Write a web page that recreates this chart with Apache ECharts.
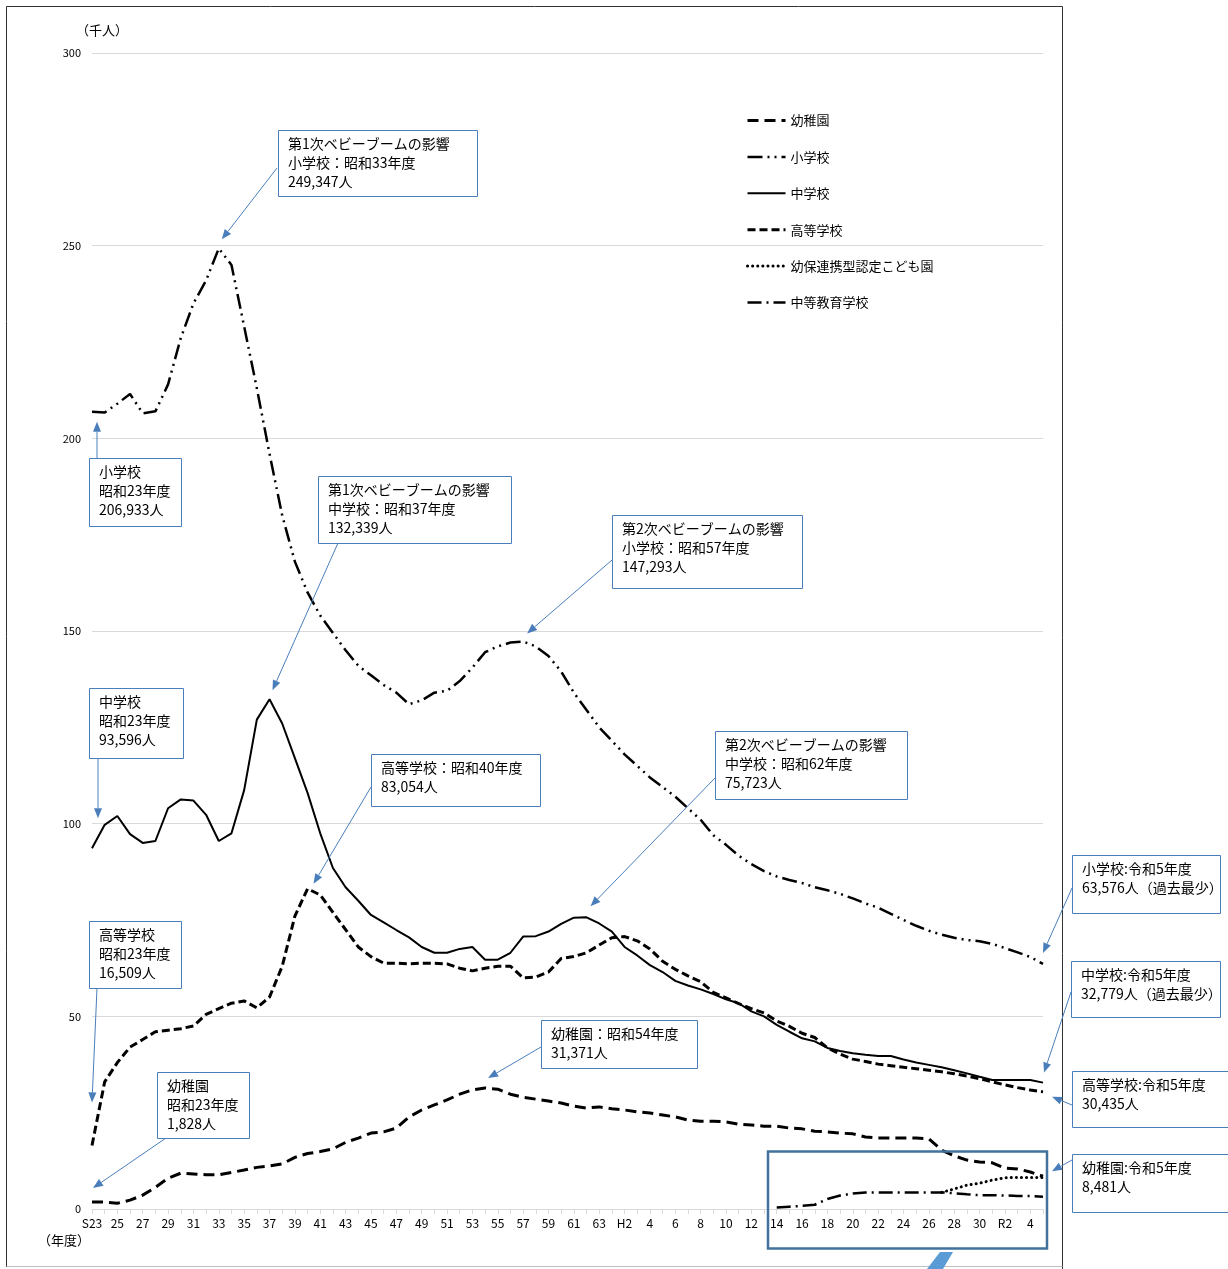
<!DOCTYPE html>
<html lang="ja">
<head>
<meta charset="UTF-8">
<title>児童・生徒数の推移</title>
<script src="https://cdn.jsdelivr.net/npm/echarts@6/dist/echarts.min.js"></script>
<style>
  html, body { margin: 0; padding: 0; background: #fff; }
  #main { width: 1228px; height: 1269px; }
</style>
</head>
<body>
<div id="main"></div>
<script>
// 年度（S23〜R5）
var fiscalYears = [
  'S23','S24','S25','S26','S27','S28','S29','S30','S31','S32','S33','S34','S35','S36','S37','S38','S39','S40','S41','S42',
  'S43','S44','S45','S46','S47','S48','S49','S50','S51','S52','S53','S54','S55','S56','S57','S58','S59','S60','S61','S62','S63',
  'H1','H2','H3','H4','H5','H6','H7','H8','H9','H10','H11','H12','H13','H14','H15','H16','H17','H18','H19','H20',
  'H21','H22','H23','H24','H25','H26','H27','H28','H29','H30','R1','R2','R3','R4','R5'
];
// 軸に表示する目盛ラベル
var tickLabels = [
  'S23','24','25','26','27','28','29','30','31','32','33','34','35','36','37','38','39','40','41','42',
  '43','44','45','46','47','48','49','50','51','52','53','54','55','56','57','58','59','60','61','62','63',
  'H1','H2','3','4','5','6','7','8','9','10','11','12','13','14','15','16','17','18','19','20',
  '21','22','23','24','25','26','27','28','29','30','R1','R2','3','4','5'
];

// 児童・生徒数（千人）
var kindergarten = [
  1.8, 1.8, 1.5, 2.3, 3.6, 5.6, 8.0, 9.3, 9.1, 8.9, 8.9, 9.5, 10.1, 10.8, 11.2, 11.7, 13.4, 14.4, 14.9, 15.6,
  17.3, 18.4, 19.7, 20.0, 21.0, 23.9, 25.7, 27.0, 28.3, 29.8, 30.9, 31.4, 31.1, 29.8, 29.0, 28.5, 28.0, 27.5, 26.7, 26.2, 26.5,
  26.0, 25.7, 25.2, 24.9, 24.4, 23.9, 23.1, 22.8, 22.8, 22.6, 22.0, 21.8, 21.5, 21.5, 21.0, 20.8, 20.2, 20.0, 19.7, 19.5,
  18.7, 18.4, 18.4, 18.4, 18.4, 18.2, 15.3, 13.8, 12.7, 12.2, 12.0, 10.6, 10.4, 9.6, 8.5
];
var elementary = [
  206.9, 206.7, 209.0, 211.5, 206.5, 207.0, 214.0, 226.0, 235.0, 241.0, 249.3, 245.0, 229.0, 213.0, 196.0, 180.0, 168.0, 160.0, 154.0, 149.5,
  145.0, 141.0, 138.5, 136.0, 134.0, 131.0, 132.0, 134.0, 134.5, 137.0, 140.5, 144.5, 146.0, 147.0, 147.3, 146.0, 143.5, 139.5, 134.0, 129.5, 125.0,
  121.5, 118.0, 115.0, 112.0, 109.5, 107.0, 104.0, 101.0, 97.0, 94.5, 91.7, 89.5, 87.7, 86.3, 85.4, 84.6, 83.5, 82.7, 81.8, 80.6,
  79.3, 78.2, 76.6, 75.0, 73.5, 72.2, 71.2, 70.4, 69.8, 69.5, 68.8, 67.7, 66.6, 65.4, 63.6
];
var juniorHigh = [
  93.6, 99.7, 102.0, 97.3, 95.0, 95.5, 104.0, 106.3, 106.0, 102.3, 95.5, 97.5, 108.7, 127.0, 132.3, 126.0, 117.0, 108.0, 97.5, 88.5,
  83.5, 80.0, 76.3, 74.4, 72.4, 70.5, 68.0, 66.5, 66.5, 67.5, 68.0, 64.7, 64.7, 66.5, 70.7, 70.8, 72.0, 74.0, 75.6, 75.7, 74.1,
  72.0, 68.0, 65.8, 63.3, 61.5, 59.2, 58.0, 57.0, 55.8, 54.4, 53.4, 51.3, 50.0, 47.8, 46.0, 44.3, 43.5, 41.8, 41.0, 40.4,
  40.0, 39.7, 39.7, 38.8, 38.0, 37.4, 36.8, 36.0, 35.2, 34.3, 33.5, 33.5, 33.5, 33.5, 32.8
];
var highSchool = [
  16.5, 33.0, 38.0, 42.0, 44.0, 46.0, 46.4, 46.8, 47.5, 50.5, 52.0, 53.4, 54.0, 52.2, 55.0, 63.0, 76.0, 83.1, 81.5, 77.0,
  72.5, 68.0, 65.5, 63.8, 63.8, 63.6, 63.8, 63.8, 63.6, 62.5, 61.8, 62.5, 63.0, 63.0, 60.0, 60.2, 61.5, 65.0, 65.5, 66.5, 68.5,
  70.4, 70.7, 69.6, 67.5, 64.3, 62.2, 60.5, 59.0, 56.2, 54.8, 53.3, 52.0, 50.9, 48.8, 47.4, 45.6, 44.5, 41.8, 40.2, 38.9,
  38.3, 37.6, 37.2, 36.8, 36.4, 36.0, 35.6, 35.1, 34.5, 33.8, 33.0, 32.2, 31.5, 30.9, 30.4
];
var kodomoen = [
  null, null, null, null, null, null, null, null, null, null, null, null, null, null, null, null, null, null, null, null,
  null, null, null, null, null, null, null, null, null, null, null, null, null, null, null, null, null, null, null, null, null,
  null, null, null, null, null, null, null, null, null, null, null, null, null, null, null, null, null, null, null, null,
  null, null, null, null, null, null, 4.3, 5.2, 6.2, 6.7, 7.5, 8.1, 8.2, 8.2, 8.2
];
var secondary = [
  null, null, null, null, null, null, null, null, null, null, null, null, null, null, null, null, null, null, null, null,
  null, null, null, null, null, null, null, null, null, null, null, null, null, null, null, null, null, null, null, null, null,
  null, null, null, null, null, null, null, null, null, null, null, null, null, 0.4, 0.6, 0.8, 1.1, 2.6, 3.5, 4.0,
  4.3, 4.3, 4.3, 4.3, 4.3, 4.3, 4.3, 4.1, 3.8, 3.6, 3.6, 3.5, 3.4, 3.4, 3.2
];

var FONT = '"Noto Sans CJK JP", "Noto Sans", sans-serif';
var BLUE = '#4a7ebb';

var chart = echarts.init(document.getElementById('main'));

function lineSeries(name, data, width, dash, cap) {
  return {
    name: name,
    type: 'line',
    data: data,
    symbol: 'none',
    smooth: false,
    connectNulls: false,
    silent: true,
    lineStyle: { color: '#000', width: width, type: dash, cap: cap || 'butt' },
    itemStyle: { color: '#000' }
  };
}

var option = {
  animation: false,
  textStyle: { fontFamily: FONT },
  grid: { left: 92, right: 185, top: 53, bottom: 60 },
  legend: {
    orient: 'vertical',
    left: 741,
    top: 109,
    itemWidth: 38,
    itemHeight: 14,
    itemGap: 23.4,
    itemStyle: { opacity: 0 },
    lineStyle: { width: 'inherit', type: 'inherit' },
    textStyle: { fontFamily: FONT, fontSize: 13, color: '#000' },
    data: ['幼稚園', '小学校', '中学校', '高等学校', '幼保連携型認定こども園', '中等教育学校']
  },
  xAxis: {
    type: 'category',
    data: fiscalYears,
    boundaryGap: false,
    axisLine: { lineStyle: { color: '#d9d9d9', width: 1 } },
    axisTick: { show: true, interval: 0, length: 5, lineStyle: { color: '#d9d9d9' } },
    axisLabel: {
      interval: 1,
      margin: 8,
      fontSize: 12,
      color: '#000',
      fontFamily: FONT,
      formatter: function (v, i) { return tickLabels[i]; }
    },
    splitLine: { show: false }
  },
  yAxis: {
    type: 'value',
    min: 0,
    max: 300,
    interval: 50,
    axisLine: { show: false },
    axisTick: { show: false },
    axisLabel: { fontSize: 11, color: '#000', margin: 11, fontFamily: FONT },
    splitLine: { lineStyle: { color: '#d9d9d9', width: 1 } }
  },
  series: [
    lineSeries('幼稚園', kindergarten, 3, [11, 6]),
    lineSeries('小学校', elementary, 2.5, [15, 5, 2, 5, 2, 5]),
    lineSeries('中学校', juniorHigh, 2, 'solid'),
    lineSeries('高等学校', highSchool, 3, [8, 4]),
    lineSeries('幼保連携型認定こども園', kodomoen, 3, [0.1, 5], 'round'),
    lineSeries('中等教育学校', secondary, 2.5, [14, 5, 2, 5])
  ]
};
chart.setOption(option);

// 吹き出し注記
var notes = [
  { box: [278, 130, 199, 66], lines: ['第1次ベビーブームの影響', '小学校：昭和33年度', '249,347人'], from: [277, 168], s: 1, i: 10, off: [3, -9] },
  { box: [89, 458, 92, 68], lines: ['小学校', '昭和23年度', '206,933人'], from: [97, 458], s: 1, i: 0, off: [5, 10] },
  { box: [318, 476, 193, 67], lines: ['第1次ベビーブームの影響', '中学校：昭和37年度', '132,339人'], from: [338, 543], s: 2, i: 14, off: [3, -9] },
  { box: [612, 515, 190, 73], lines: ['第2次ベビーブームの影響', '小学校：昭和57年度', '147,293人'], from: [612, 560], s: 1, i: 34, off: [4, -8] },
  { box: [89, 688, 94, 70], lines: ['中学校', '昭和23年度', '93,596人'], from: [98, 758], s: 2, i: 0, off: [6, -30] },
  { box: [371, 754, 169, 52], lines: ['高等学校：昭和40年度', '83,054人'], from: [371, 787], s: 3, i: 17, off: [6, -5] },
  { box: [715, 731, 192, 68], lines: ['第2次ベビーブームの影響', '中学校：昭和62年度', '75,723人'], from: [715, 778], s: 2, i: 39, off: [4, -11] },
  { box: [89, 921, 92, 67], lines: ['高等学校', '昭和23年度', '16,509人'], from: [97, 988], s: 3, i: 0, off: [0, -43] },
  { box: [541, 1020, 156, 48], lines: ['幼稚園：昭和54年度', '31,371人'], from: [541, 1047], s: 0, i: 31, off: [3, -10] },
  { box: [157, 1072, 92, 66], lines: ['幼稚園', '昭和23年度', '1,828人'], from: [166, 1138], s: 0, i: 0, off: [1, -14] },
  { box: [1072, 855, 148, 58], lines: ['小学校:令和5年度', '63,576人（過去最少）'], from: [1072, 888], s: 1, i: 75, off: [0, -11] },
  { box: [1071, 961, 149, 56], lines: ['中学校:令和5年度', '32,779人（過去最少）'], from: [1071, 992], s: 2, i: 75, off: [1, -10] },
  { box: [1072, 1071, 160, 56], lines: ['高等学校:令和5年度', '30,435人'], from: [1072, 1105], s: 3, i: 75, off: [9, 5] },
  { box: [1072, 1154, 160, 58], lines: ['幼稚園:令和5年度', '8,481人'], from: [1072, 1160], s: 0, i: 75, off: [9, -5] }
];
var seriesData = [kindergarten, elementary, juniorHigh, highSchool];

var graphics = [];
// 外枠
graphics.push({ type: 'polyline', silent: true, shape: { points: [[6.5, 1267], [6.5, 6.5], [1062.5, 6.5], [1062.5, 1269]] },
  style: { stroke: '#333', lineWidth: 1, fill: null } });
graphics.push({ type: 'line', silent: true, shape: { x1: 6.5, y1: 1266.5, x2: 1062.5, y2: 1266.5 }, style: { stroke: '#bfbfbf', lineWidth: 1 } });
// 単位
graphics.push({ type: 'text', left: 76, top: 24, silent: true, style: { text: '（千人）', font: '13px ' + FONT, fill: '#000' } });
graphics.push({ type: 'text', left: 38, top: 1234, silent: true, style: { text: '（年度）', font: '13px ' + FONT, fill: '#000' } });

notes.forEach(function (n) {
  var p = chart.convertToPixel({ xAxisIndex: 0, yAxisIndex: 0 }, [n.i, seriesData[n.s][n.i]]);
  var tx = p[0] + n.off[0], ty = p[1] + n.off[1];
  var fx = n.from[0], fy = n.from[1];
  var ang = Math.atan2(ty - fy, tx - fx);
  var L = 10, W = 4;
  var bx = tx - L * Math.cos(ang), by = ty - L * Math.sin(ang);
  graphics.push({ type: 'line', silent: true, z: 10,
    shape: { x1: fx, y1: fy, x2: bx, y2: by }, style: { stroke: BLUE, lineWidth: 1 } });
  graphics.push({ type: 'polygon', silent: true, z: 10,
    shape: { points: [[tx, ty],
      [bx + W * Math.sin(ang), by - W * Math.cos(ang)],
      [bx - W * Math.sin(ang), by + W * Math.cos(ang)]] },
    style: { fill: BLUE } });
  graphics.push({ type: 'rect', silent: true, z: 11,
    shape: { x: n.box[0] + 0.5, y: n.box[1] + 0.5, width: n.box[2], height: n.box[3] },
    style: { fill: '#fff', stroke: BLUE, lineWidth: 1 } });
  n.lines.forEach(function (t, k) {
    graphics.push({ type: 'text', silent: true, z: 12,
      x: n.box[0] + 10, y: n.box[1] + 14 + k * 19,
      style: { text: t, font: '14px ' + FONT, fill: '#000', verticalAlign: 'middle' } });
  });
});

// 拡大部分の枠と矢印
graphics.push({ type: 'rect', silent: true, z: 9, shape: { x: 768, y: 1151.5, width: 279, height: 97 },
  style: { fill: null, stroke: '#41719c', lineWidth: 2.5 } });
graphics.push({ type: 'polygon', silent: true, z: 9, shape: { points: [[940, 1252], [953, 1252], [943, 1269], [927, 1269]] },
  style: { fill: '#5b9bd5' } });

chart.setOption({ graphic: graphics });
</script>
</body>
</html>
